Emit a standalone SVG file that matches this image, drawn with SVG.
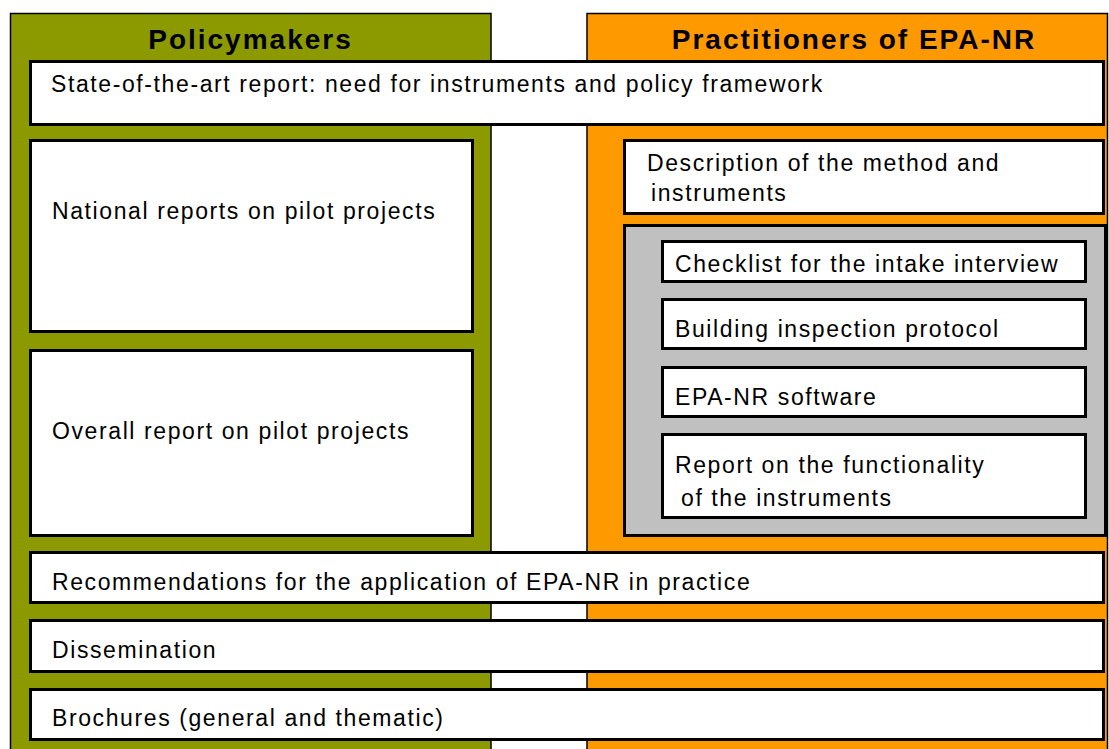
<svg xmlns="http://www.w3.org/2000/svg" width="1109" height="749" viewBox="0 0 1109 749">
<style>
.col{stroke:#000;stroke-width:1.5}
.box{fill:#fff;stroke:#000;stroke-width:3}
.gray{fill:#c0c0c0;stroke:#000;stroke-width:3}
.t{font-family:"Liberation Sans",Arial,sans-serif;font-size:23px;letter-spacing:1.6px;fill:#000}
.h{font-family:"Liberation Sans",Arial,sans-serif;font-size:28px;font-weight:bold;letter-spacing:2px;fill:#000;text-anchor:middle}
</style>
<rect width="1109" height="749" fill="#fff"/>
<g id="policymakers">
<rect class="col" x="10.5" y="13.5" width="480.5" height="760" fill="#8c9a00"/>
<text class="h" x="250.5" y="49">Policymakers</text>
</g>
<g id="practitioners">
<rect class="col" x="587" y="13.5" width="520.5" height="760" fill="#ff9900"/>
<text class="h" x="854" y="49">Practitioners of EPA-NR</text>
</g>
<g id="state-of-the-art">
<rect class="box" x="30.5" y="61.5" width="1073" height="63"/>
<text class="t" x="51" y="92">State-of-the-art report: need for instruments and policy framework</text>
</g>
<g id="national-reports">
<rect class="box" x="30.5" y="140.5" width="442" height="191"/>
<text class="t" x="52" y="219">National reports on pilot projects</text>
</g>
<g id="overall-report">
<rect class="box" x="30.5" y="350.5" width="442" height="185"/>
<text class="t" x="52" y="439">Overall report on pilot projects</text>
</g>
<g id="description">
<rect class="box" x="624.5" y="140.5" width="479" height="73"/>
<text class="t" x="647" y="171">Description of the method and</text>
<text class="t" x="651" y="201">instruments</text>
</g>
<g id="instruments">
<rect class="gray" x="624.5" y="225.5" width="481" height="310"/>
</g>
<g id="checklist">
<rect class="box" x="662.5" y="241.5" width="423" height="40"/>
<text class="t" x="675" y="272">Checklist for the intake interview</text>
</g>
<g id="building-inspection">
<rect class="box" x="662.5" y="299.5" width="423" height="49"/>
<text class="t" x="675" y="337">Building inspection protocol</text>
</g>
<g id="software">
<rect class="box" x="662.5" y="367.5" width="423" height="49"/>
<text class="t" x="675" y="405">EPA-NR software</text>
</g>
<g id="functionality-report">
<rect class="box" x="662.5" y="434.5" width="423" height="83"/>
<text class="t" x="675" y="473">Report on the functionality</text>
<text class="t" x="681" y="506">of the instruments</text>
</g>
<g id="recommendations">
<rect class="box" x="30.5" y="552.5" width="1073" height="50"/>
<text class="t" x="52" y="590">Recommendations for the application of EPA-NR in practice</text>
</g>
<g id="dissemination">
<rect class="box" x="30.5" y="620.5" width="1073" height="51"/>
<text class="t" x="52" y="658">Dissemination</text>
</g>
<g id="brochures">
<rect class="box" x="30.5" y="689.5" width="1073" height="50"/>
<text class="t" x="52" y="726">Brochures (general and thematic)</text>
</g>
</svg>
